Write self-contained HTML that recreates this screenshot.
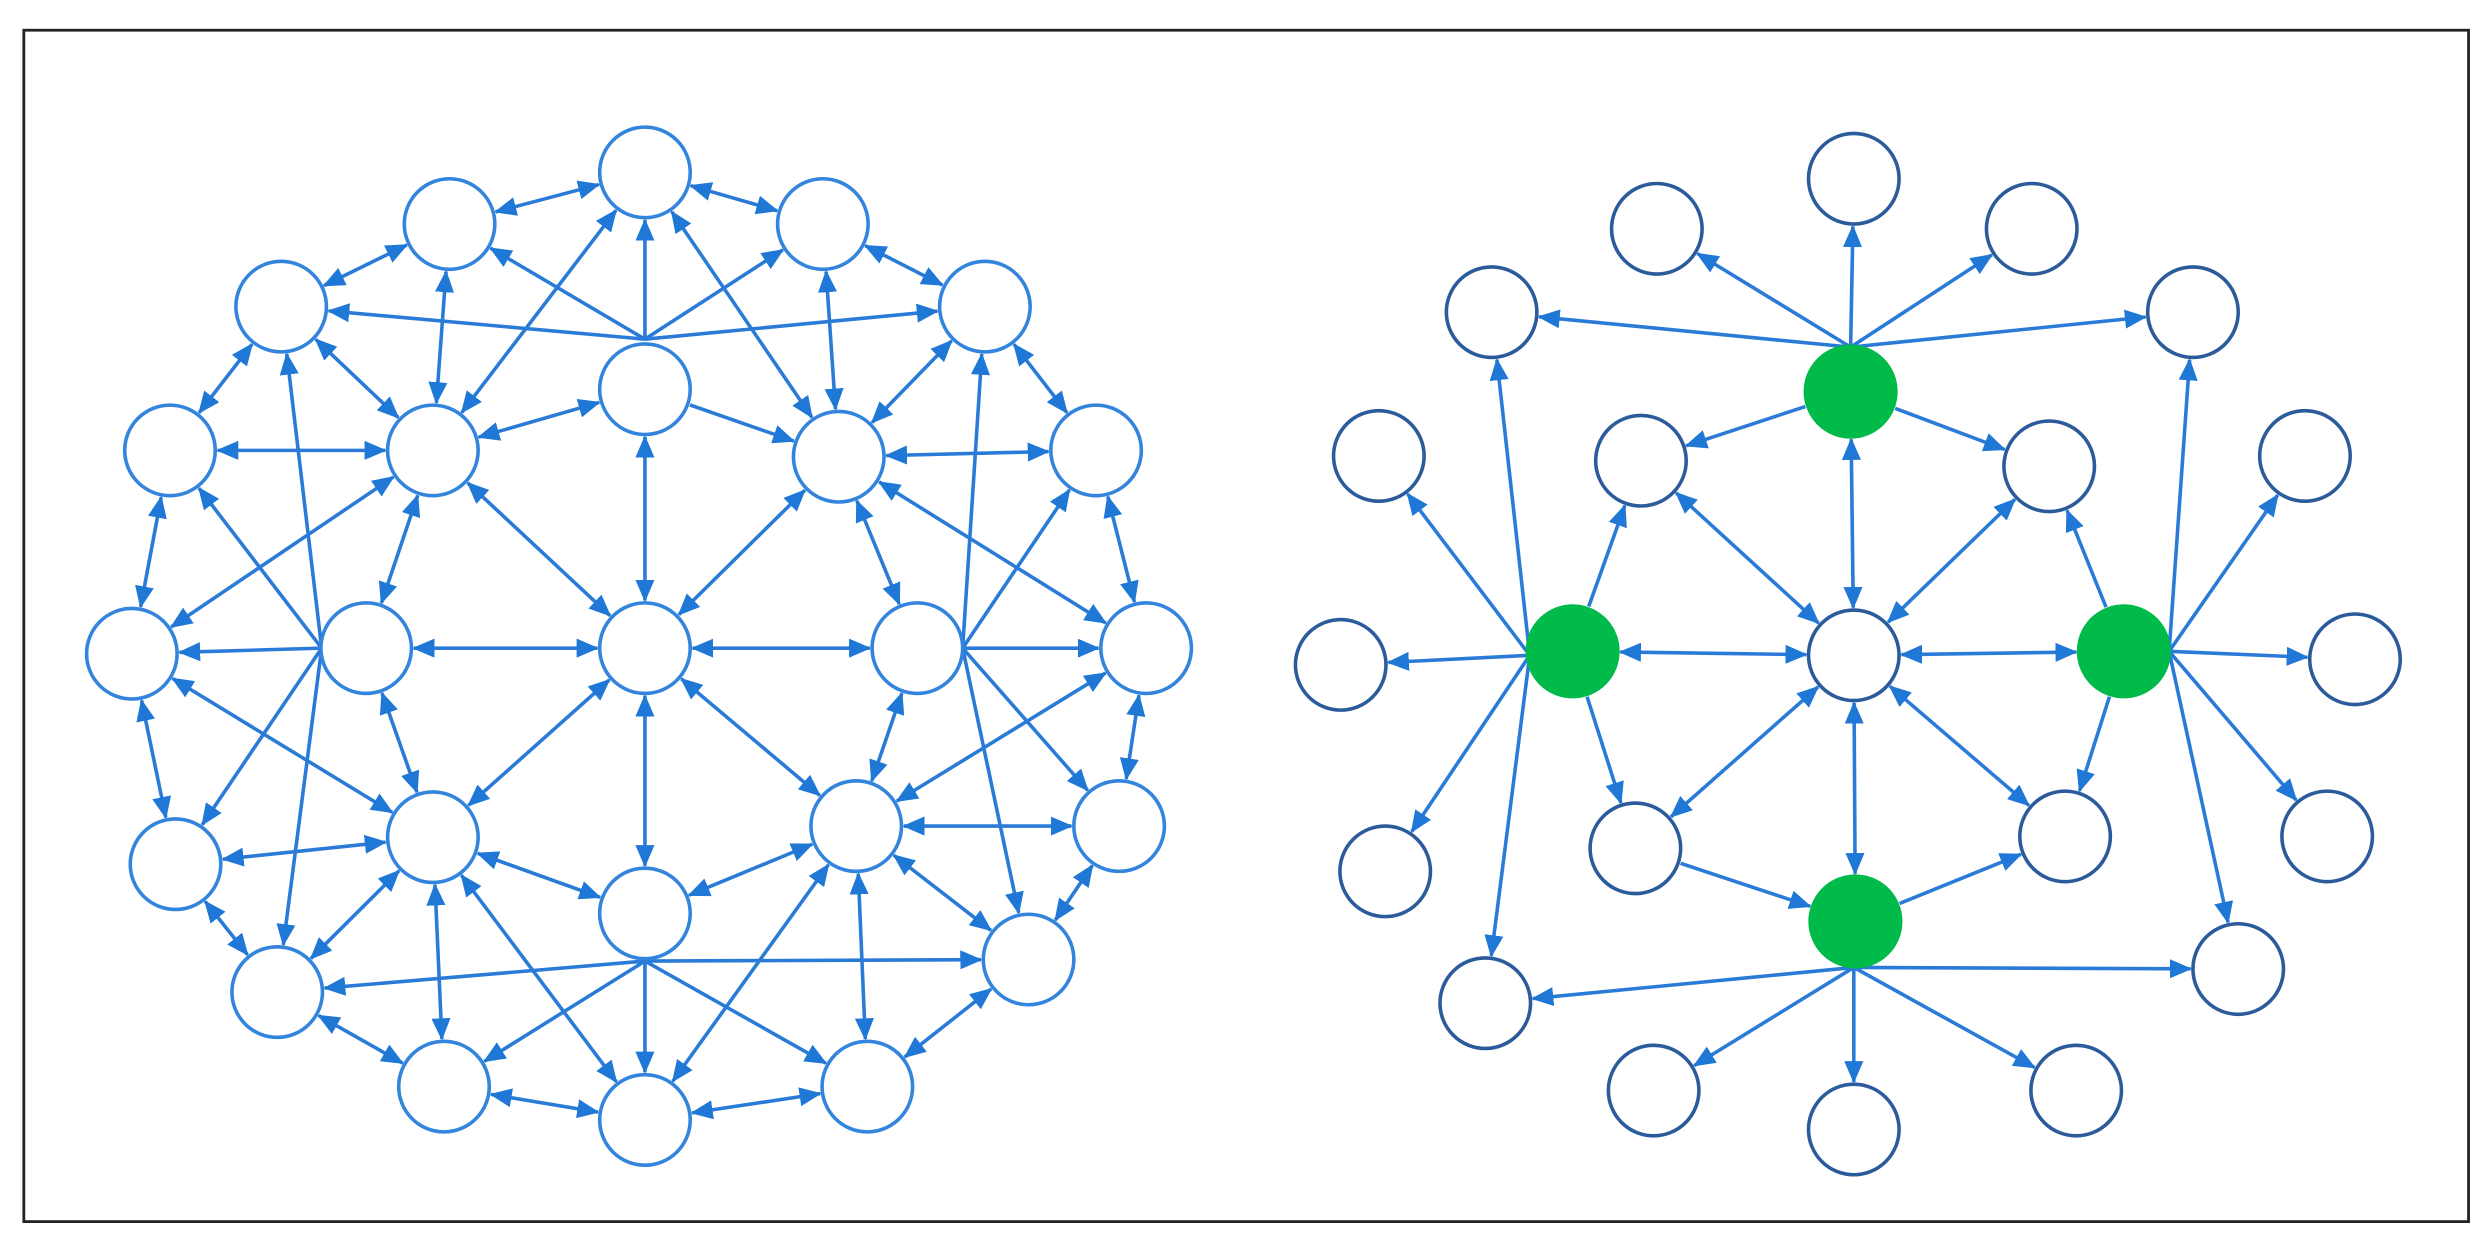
<!DOCTYPE html>
<html><head><meta charset="utf-8"><style>
html,body{margin:0;padding:0;background:#fff;width:2490px;height:1255px;overflow:hidden}
svg{display:block}
</style></head><body>
<svg id="s" width="2490" height="1255" viewBox="0 0 3135 1580" xmlns="http://www.w3.org/2000/svg">
<defs>
<marker id="ah" markerUnits="userSpaceOnUse" markerWidth="28" markerHeight="24" refX="26" refY="12" orient="auto-start-reverse" viewBox="0 0 28 24">
<path d="M0,0 L28,12 L0,24 Z" fill="#1f77d6"/>
</marker>
</defs>
<rect x="30" y="38" width="3078" height="1500" fill="none" stroke="#222" stroke-width="3.5"/>
<g id="g"></g>
</svg>
<script>
var R=57,NS="http://www.w3.org/2000/svg",g=document.getElementById('g');
var L={A:[812,217],B:[566,282],C:[1036,282],D:[354,386],E:[1240,386],F:[812,490],G:[214,567],H:[545,567],I:[1056,575],J:[1380,567],K:[166,823],Lx:[461,816],M:[812,816],N:[1155,816],O:[1443,816],P:[221,1088],Q:[545,1054],Rr:[1078,1040],S:[1409,1040],T:[812,1150],U:[349,1249],V:[1295,1208],W:[559,1368],X:[812,1410],Y:[1092,1368]};
var o=1568;
var Rn={a:[766,225],b:[518,288],c:[990,288],d:[310,393],e:[1193,393],G1:[762,493],b2:[498,580],c2:[1012,587],f:[168,574],g:[120,837],h:[176,1097],i:[302,1263],j:[1334,574],k:[1397,830],l:[1362,1053],m:[1250,1220],G2:[412,820],C:[766,825],G3:[1106,820],n:[491,1068],o:[1032,1053],G4:[768,1160],p:[514,1373],q:[766,1422],r:[1046,1373]};
for(var k in Rn){Rn[k]=[Rn[k][0]+o,Rn[k][1]];}
function line(x1,y1,x2,y2,s,e){var l=document.createElementNS(NS,'line');l.setAttribute('x1',x1);l.setAttribute('y1',y1);l.setAttribute('x2',x2);l.setAttribute('y2',y2);l.setAttribute('stroke','#2a7bd8');l.setAttribute('stroke-width','4.5');if(s)l.setAttribute('marker-start','url(#ah)');if(e)l.setAttribute('marker-end','url(#ah)');g.appendChild(l);}
function edge(P,a,b,dbl){var p=P[a],q=P[b];var dx=q[0]-p[0],dy=q[1]-p[1],d=Math.hypot(dx,dy),ux=dx/d,uy=dy/d,t=R+3;
line(p[0]+ux*t,p[1]+uy*t,q[0]-ux*t,q[1]-uy*t,dbl,true);}
function hub(P,pt,b){var q=P[b];var dx=q[0]-pt[0],dy=q[1]-pt[1],d=Math.hypot(dx,dy),t=R+3;line(pt[0],pt[1],q[0]-dx/d*t,q[1]-dy/d*t,false,true);}
"A-B A-C B-D C-E D-G E-J G-K J-O K-P O-S P-U S-V U-W V-Y W-X X-Y F-H F-M H-A A-I B-H C-I D-H E-I G-H I-J H-Lx H-M I-M I-N Lx-M M-N M-T M-Q M-Rr H-K K-Q Lx-Q P-Q I-O Rr-O N-Rr Rr-S Rr-V Q-T T-Rr Q-W Q-U Q-X Rr-X Rr-Y".split(' ').forEach(function(s){var a=s.split('-');edge(L,a[0],a[1],true);});
edge(L,'F','I',false);
"D B A C E".split(' ').forEach(function(b){hub(L,[812,427],b);});
"K G D P U".split(' ').forEach(function(b){hub(L,[405,816],b);});
"E J O S V".split(' ').forEach(function(b){hub(L,[1212,816],b);});
"U W X Y V".split(' ').forEach(function(b){hub(L,[812,1210],b);});
"G1-C C-b2 C-c2 C-n C-o C-G4 C-G3 G2-C".split(' ').forEach(function(s){var a=s.split('-');edge(Rn,a[0],a[1],true);});
"G1-b2 G1-c2 G2-b2 G2-n G3-c2 G3-o n-G4 G4-o".split(' ').forEach(function(s){var a=s.split('-');edge(Rn,a[0],a[1],false);});
"b a c e d".split(' ').forEach(function(b){hub(Rn,[762+o,437],b);});
"g f d h i".split(' ').forEach(function(b){hub(Rn,[358+o,825],b);});
"e j k l m".split(' ').forEach(function(b){hub(Rn,[1163+o,820],b);});
"i p q r m".split(' ').forEach(function(b){hub(Rn,[766+o,1218],b);});
function circ(p,fill,stroke){var c=document.createElementNS(NS,'circle');c.setAttribute('cx',p[0]);c.setAttribute('cy',p[1]);c.setAttribute('r',R);c.setAttribute('fill',fill);c.setAttribute('stroke',stroke);c.setAttribute('stroke-width','4.5');g.appendChild(c);}
for(var k in L)circ(L[k],'#fff','#3384dc');
for(var k in Rn){if(k[0]=='G'&&k.length==2)circ(Rn[k],'#00ba4a','#00ba4a');else circ(Rn[k],'#fff','#2c5b9c');}
</script>
</body></html>
